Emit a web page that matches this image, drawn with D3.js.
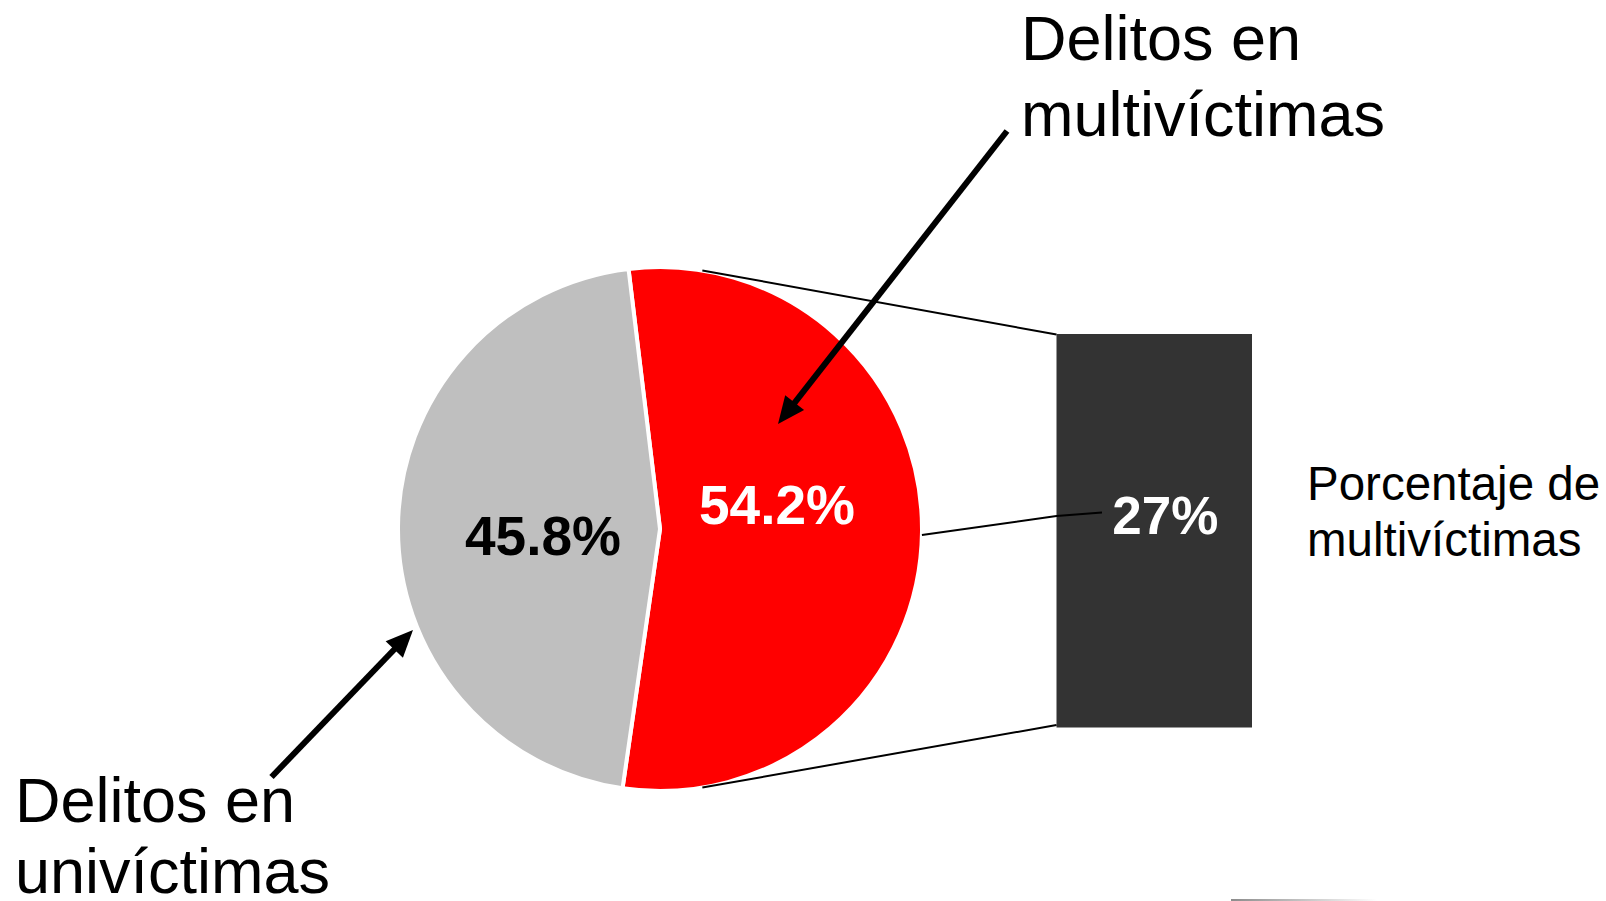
<!DOCTYPE html>
<html>
<head>
<meta charset="utf-8">
<script src="https://cdn.jsdelivr.net/npm/d3@7"></script>
<style>
  body { margin: 0; background: #fff; }
  svg { display: block; font-family: "Liberation Sans", Arial, sans-serif; }
</style>
</head>
<body>
<svg id="chart"></svg>
<script>
// pie slices (order = clockwise from the top, red first)
const sliceNames = ["Delitos en multivíctimas", "Delitos en univíctimas"];
const sliceValues = [54.2, 45.8];
const sliceColors = ["#ff0000", "#bfbfbf"];
const sliceTextColors = ["#ffffff", "#000000"];

// the bar of the "bar of pie"
const barNames = ["Porcentaje de multivíctimas"];
const barValues = [27];
const barColors = ["#333333"];

const width = 1606, height = 901;
const svg = d3.select("#chart").attr("width", width).attr("height", height);

const cx = 660, cy = 529, radius = 262;
const startDeg = -6.9;

const pie = d3.pie().sort(null)
  .startAngle(startDeg * Math.PI / 180)
  .endAngle(startDeg * Math.PI / 180 + 2 * Math.PI);
const arcs = pie(sliceValues);
const arc = d3.arc().innerRadius(0).outerRadius(radius);
const labelArc = d3.arc().innerRadius(117).outerRadius(117);

const g = svg.append("g").attr("transform", `translate(${cx},${cy})`);
g.selectAll("path")
  .data(arcs)
  .join("path")
  .attr("d", arc)
  .attr("fill", (d, i) => sliceColors[i])
  .attr("stroke", "#fff")
  .attr("stroke-width", 4)
  .attr("stroke-linejoin", "round");

const labelDy = [-6, 27];
g.selectAll("text.pct")
  .data(arcs)
  .join("text")
  .attr("class", "pct")
  .attr("x", d => labelArc.centroid(d)[0])
  .attr("y", (d, i) => labelArc.centroid(d)[1] + labelDy[i])
  .attr("text-anchor", "middle")
  .attr("font-size", 55)
  .attr("font-weight", "bold")
  .attr("fill", (d, i) => sliceTextColors[i])
  .text(d => d.data.toFixed(1) + "%");

// bar
const barX = d3.scaleBand().domain(barNames).range([1056.5, 1252]);
const barY = d3.scaleLinear().domain([0, d3.sum(barValues)]).range([727.5, 334]);
let acc = 0;
const stack = barValues.map((v, i) => { const s = { name: barNames[i], v, y0: acc, y1: acc + v }; acc += v; return s; });

svg.selectAll("rect.bar")
  .data(stack)
  .join("rect")
  .attr("class", "bar")
  .attr("x", d => barX(d.name))
  .attr("width", barX.bandwidth())
  .attr("y", d => barY(d.y1))
  .attr("height", d => barY(d.y0) - barY(d.y1))
  .attr("fill", (d, i) => barColors[i]);

// connector lines from the pie to the bar
const pt = deg => [cx + radius * Math.sin(deg * Math.PI / 180), cy - radius * Math.cos(deg * Math.PI / 180)];
const topP = pt(9.3), botP = pt(170.7), midP = pt(91.3);
const x0 = barX(barNames[0]);
const conn = svg.append("g").attr("stroke", "#000").attr("stroke-width", 2).attr("fill", "none");
conn.append("line").attr("x1", topP[0]).attr("y1", topP[1]).attr("x2", x0).attr("y2", barY(d3.sum(barValues)) + 0.5);
conn.append("line").attr("x1", botP[0]).attr("y1", botP[1]).attr("x2", x0).attr("y2", barY(0) - 2.5);
conn.append("path").attr("d", `M${midP[0]},${midP[1]}L${x0},516L1102,512.5`);

svg.selectAll("text.barpct")
  .data(stack)
  .join("text")
  .attr("class", "barpct")
  .attr("x", d => barX(d.name) + barX.bandwidth() / 2 + 11)
  .attr("y", 534)
  .attr("text-anchor", "middle")
  .attr("font-size", 53)
  .attr("font-weight", "bold")
  .attr("fill", "#fff")
  .text(d => d.v + "%");

// bar caption
const cap = svg.append("text").attr("x", 1307).attr("font-size", 47.5).attr("fill", "#000");
cap.append("tspan").attr("x", 1307).attr("y", 500).text("Porcentaje de");
cap.append("tspan").attr("x", 1307).attr("y", 556).text("multivíctimas");

// callout labels
function callout(x, y1, y2, l1, l2) {
  const t = svg.append("text").attr("font-size", 63).attr("fill", "#000");
  t.append("tspan").attr("x", x).attr("y", y1).text(l1);
  t.append("tspan").attr("x", x).attr("y", y2).text(l2);
}
callout(1021, 60, 136, "Delitos en", "multivíctimas");
callout(15, 822, 893, "Delitos en", "univíctimas");

// arrows
function arrow(xa, ya, xb, yb) {
  const ang = Math.atan2(yb - ya, xb - xa);
  const len = 27, half = 12;
  const bx = xb - len * Math.cos(ang), by = yb - len * Math.sin(ang);
  svg.append("line").attr("x1", xa).attr("y1", ya).attr("x2", bx + 3 * Math.cos(ang)).attr("y2", by + 3 * Math.sin(ang))
    .attr("stroke", "#000").attr("stroke-width", 6);
  const px = -Math.sin(ang), py = Math.cos(ang);
  svg.append("path")
    .attr("d", `M${xb},${yb}L${bx + half * px},${by + half * py}L${bx - half * px},${by - half * py}Z`)
    .attr("fill", "#000");
}
arrow(1007, 131, 778, 424);
arrow(271.5, 777, 413, 630);

// faint rule at the bottom edge
const grad = svg.append("defs").append("linearGradient").attr("id", "fade");
grad.append("stop").attr("offset", "0%").attr("stop-color", "#8c8c8c");
grad.append("stop").attr("offset", "100%").attr("stop-color", "#ffffff");
svg.append("rect").attr("x", 1231).attr("y", 899).attr("width", 146).attr("height", 2).attr("fill", "url(#fade)");
</script>
</body>
</html>
